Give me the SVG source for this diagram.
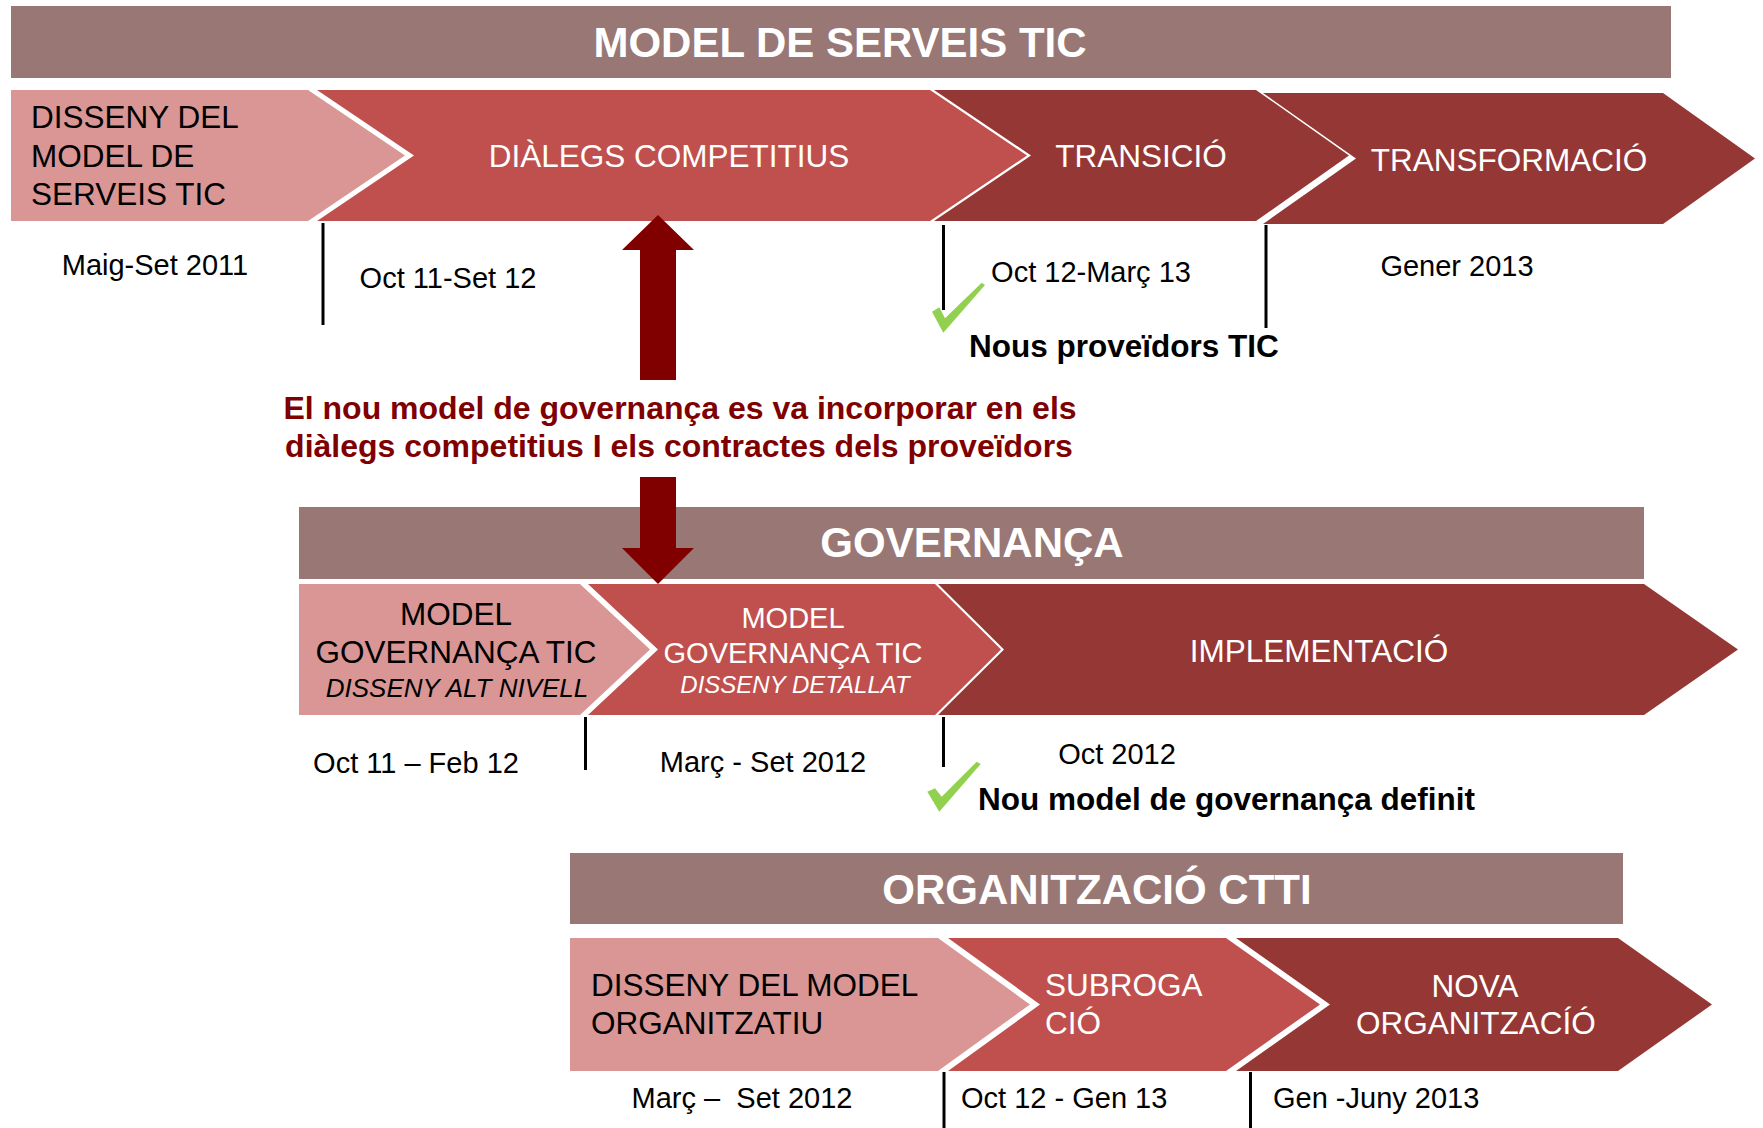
<svg xmlns="http://www.w3.org/2000/svg" width="1763" height="1128" viewBox="0 0 1763 1128">
<style>
text{font-family:"Liberation Sans",Arial,sans-serif}
.hdr{fill:#987775}
.ht{fill:#fff;font-weight:bold;font-size:42px;text-anchor:middle}
.c1{fill:#D99694}
.c2{fill:#C0504D}
.c3{fill:#953735}
.tw{fill:#fff;font-size:31.5px}
.tb{fill:#000;font-size:31.5px}
.dt{fill:#000;font-size:29px}
.mid{text-anchor:middle}
.tick{stroke:#000;stroke-width:3}
.chk{fill:#92D050}
.bold{font-weight:bold;font-size:31.5px;fill:#000}
.arr{fill:#800000}
.note{fill:#800000;font-weight:bold;font-size:32px;text-anchor:middle}
</style>
<rect width="1763" height="1128" fill="#fff"/>

<g id="header-serveis">
<rect class="hdr" x="11" y="6" width="1660" height="72"/>
<text class="ht" x="840" y="57">MODEL DE SERVEIS TIC</text>
</g>
<g id="s-disseny">
<polygon class="c1" points="11,90 308,90 405,155.5 308,221 11,221"/>
<text class="tb" x="31" y="128">DISSENY DEL</text>
<text class="tb" x="31" y="166.5">MODEL DE</text>
<text class="tb" x="31" y="205">SERVEIS TIC</text>
</g>
<g id="s-dialegs">
<polygon class="c2" points="317,90 930,90 1027,155.5 930,221 317,221 414,155.5"/>
<text class="tw mid" x="669" y="167">DIÀLEGS COMPETITIUS</text>
</g>
<g id="s-transicio">
<polygon class="c3" points="934,90 1256,90 1349,155.5 1256,221 934,221 1031,155.5"/>
<text class="tw mid" x="1141" y="167">TRANSICIÓ</text>
</g>
<g id="s-transformacio">
<polygon class="c3" points="1263,93 1663,93 1755,158.5 1663,224 1263,224 1356,158.5"/>
<text class="tw mid" x="1509" y="171">TRANSFORMACIÓ</text>
</g>
<g id="s-dates">
<line class="tick" x1="323" y1="223" x2="323" y2="325"/>
<line class="tick" x1="943.5" y1="225" x2="943.5" y2="310"/>
<line class="tick" x1="1266" y1="225" x2="1266" y2="328"/>
<text class="dt mid" x="155" y="275">Maig-Set 2011</text>
<text class="dt mid" x="448" y="288">Oct 11-Set 12</text>
<text class="dt mid" x="1091" y="282">Oct 12-Març 13</text>
<text class="dt mid" x="1457" y="276">Gener 2013</text>
</g>
<g id="s-fita">
<polygon class="chk" points="932,311.7 939.3,307.3 945,318.3 981.7,282.7 985,285 943.3,332.7"/>
<text class="bold" x="969" y="357">Nous proveïdors TIC</text>
</g>

<g id="nota">
<text class="note" x="680" y="419">El nou model de governança es va incorporar en els</text>
<text class="note" x="679" y="457">diàlegs competitius I els contractes dels proveïdors</text>
</g>

<g id="header-governanca">
<rect class="hdr" x="299" y="507" width="1345" height="72"/>
<text class="ht" x="972" y="557">GOVERNANÇA</text>
</g>
<g id="g-alt-nivell">
<polygon class="c1" points="299,584 580,584 650,649.5 580,715 299,715"/>
<text class="tb mid" x="456" y="625">MODEL</text>
<text class="tb mid" x="456" y="663">GOVERNANÇA TIC</text>
<text class="mid" x="457" y="697" font-style="italic" font-size="26" fill="#000">DISSENY ALT NIVELL</text>
</g>
<g id="g-detallat">
<polygon class="c2" points="588,584 935,584 1001,649.5 935,715 588,715 658,649.5"/>
<text class="mid" x="793" y="628" font-size="29" fill="#fff">MODEL</text>
<text class="mid" x="793" y="663" font-size="29" fill="#fff">GOVERNANÇA TIC</text>
<text class="mid" x="795" y="693" font-style="italic" font-size="24" fill="#fff">DISSENY DETALLAT</text>
</g>
<g id="g-implementacio">
<polygon class="c3" points="938,584 1644,584 1738,649.5 1644,715 938,715 1004,649.5"/>
<text class="tw mid" x="1319" y="662">IMPLEMENTACIÓ</text>
</g>
<g id="g-dates">
<line class="tick" x1="585.5" y1="717" x2="585.5" y2="770"/>
<line class="tick" x1="943.5" y1="717" x2="943.5" y2="767"/>
<text class="dt mid" x="416" y="773">Oct 11 – Feb 12</text>
<text class="dt mid" x="763" y="772">Març - Set 2012</text>
<text class="dt mid" x="1117" y="764">Oct 2012</text>
</g>
<g id="g-fita">
<polygon class="chk" points="927.3,791.7 935,788.3 941.7,796.7 976.7,761.7 980.7,764 939.3,811.7"/>
<text class="bold" x="978" y="810">Nou model de governança definit</text>
</g>

<g id="header-organitzacio">
<rect class="hdr" x="570" y="853" width="1053" height="71"/>
<text class="ht" x="1097" y="904">ORGANITZACIÓ CTTI</text>
</g>
<g id="o-disseny">
<polygon class="c1" points="570,938 938,938 1030,1004.5 938,1071 570,1071"/>
<text class="tb" x="591" y="996">DISSENY DEL MODEL</text>
<text class="tb" x="591" y="1034">ORGANITZATIU</text>
</g>
<g id="o-subrogacio">
<polygon class="c2" points="948,938 1226,938 1320,1004.5 1226,1071 948,1071 1040,1004.5"/>
<text class="tw" x="1045" y="996">SUBROGA</text>
<text class="tw" x="1045" y="1034">CIÓ</text>
</g>
<g id="o-nova">
<polygon class="c3" points="1236,938 1618,938 1712,1004.5 1618,1071 1236,1071 1330,1004.5"/>
<text class="tw mid" x="1475" y="997">NOVA</text>
<text class="tw mid" x="1476" y="1034">ORGANITZACÍÓ</text>
</g>
<g id="o-dates">
<line class="tick" x1="944" y1="1072" x2="944" y2="1128"/>
<line class="tick" x1="1250.5" y1="1072" x2="1250.5" y2="1128"/>
<text class="dt mid" x="742" y="1108" xml:space="preserve">Març –  Set 2012</text>
<text class="dt" x="961" y="1108">Oct 12 - Gen 13</text>
<text class="dt" x="1273" y="1108">Gen -Juny 2013</text>
</g>

<g id="connectors">
<polygon class="arr" points="658,215 694,250 676,250 676,380 640,380 640,250 622,250"/>
<polygon class="arr" points="640,477 676,477 676,548 694,548 658,584 622,548 640,548"/>
</g>
</svg>
